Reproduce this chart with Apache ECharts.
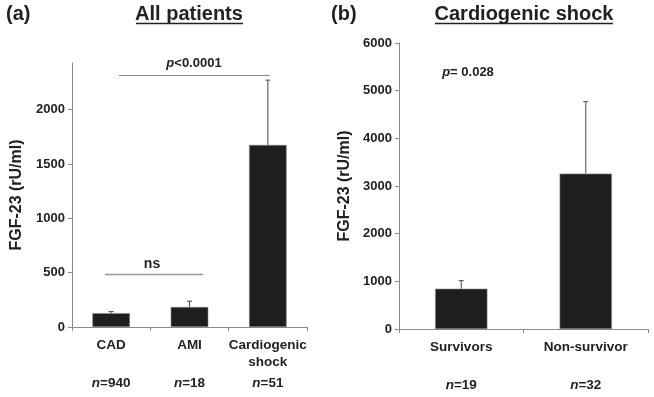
<!DOCTYPE html>
<html>
<head>
<meta charset="utf-8">
<script src="https://cdn.jsdelivr.net/npm/echarts@6/dist/echarts.min.js"></script>
<style>
  html, body { margin: 0; padding: 0; background: #fff; }
  #chart { width: 654px; height: 397px; }
</style>
</head>
<body>
<div id="chart"></div>
<script>
// panel (a): all patients
const catsA = ['CAD', 'AMI', 'Cardiogenic\nshock']
const nA = ['940', '18', '51']
const meanA = [128, 184, 1676]
const errA = [142, 237, 2272]

// panel (b): cardiogenic shock
const catsB = ['Survivors', 'Non-survivor']
const nB = ['19', '32']
const meanB = [845, 3260]
const errB = [1015, 4770]

const FONT = '"Liberation Sans", Arial, sans-serif'
const TXT = '#222'
const AXIS = '#8a8a8a'

var myChart = echarts.init(document.getElementById('chart'), null, { renderer: 'canvas' })

function catLabel (cats, ns) {
  return function (value, idx) {
    const lines = value.split('\n')
    let s = lines.map(l => '{c|' + l + '}').join('\n')
    if (lines.length === 1) s += '\n{c| }'
    return s + '\n{n|n}{v|=' + ns[idx] + '}'
  }
}
const catRich = {
  c: { fontFamily: FONT, fontWeight: 'bold', fontSize: 13.5, color: TXT, lineHeight: 17 },
  n: { fontFamily: FONT, fontWeight: 'bold', fontStyle: 'italic', fontSize: 13.5, color: TXT, lineHeight: 25 },
  v: { fontFamily: FONT, fontWeight: 'bold', fontSize: 13.5, color: TXT, lineHeight: 25 }
}

function xAxisFor (grid, cats, ns) {
  return {
    type: 'category', gridIndex: grid, data: cats,
    axisLine: { lineStyle: { color: AXIS, width: 1 } },
    axisTick: { show: true, length: 4, lineStyle: { color: AXIS } },
    axisLabel: { margin: 10, formatter: catLabel(cats, ns), rich: catRich, interval: 0 }
  }
}
function yAxisFor (grid, max, interval, gap) {
  return {
    type: 'value', gridIndex: grid, min: 0, max: max, interval: interval,
    name: 'FGF-23 (rU/ml)', nameLocation: 'middle', nameGap: gap,
    nameTextStyle: { fontFamily: FONT, fontWeight: 'bold', fontSize: 16, color: TXT },
    splitLine: { show: false },
    axisLine: { show: true, lineStyle: { color: AXIS, width: 1 } },
    axisTick: { show: true, length: 4, lineStyle: { color: AXIS } },
    axisLabel: {
      showMaxLabel: max % interval === 0,
      formatter: v => String(v),
      fontFamily: FONT, fontWeight: 'bold', fontSize: 13, color: TXT, margin: 7
    }
  }
}

function errSeries (idx, data, means) {
  return {
    type: 'custom', xAxisIndex: idx, yAxisIndex: idx, z: 1,
    data: data.map((v, i) => [i, v]),
    renderItem: function (params, api) {
      const i = api.value(0)
      const top = api.coord([i, api.value(1)])
      const base = api.coord([i, means[i]])
      return {
        type: 'group',
        children: [
          { type: 'line', shape: { x1: top[0], y1: base[1], x2: top[0], y2: top[1] }, style: { stroke: '#555', lineWidth: 1.1 } },
          { type: 'line', shape: { x1: top[0] - 2.5, y1: top[1], x2: top[0] + 2.5, y2: top[1] }, style: { stroke: '#555', lineWidth: 1.1 } }
        ]
      }
    }
  }
}

const pRich = {
  i: { font: 'italic bold 13px ' + FONT, fill: TXT },
  b: { font: 'bold 13px ' + FONT, fill: TXT }
}

const option = {
  animation: false,
  backgroundColor: '#fff',
  grid: [
    { left: 72, top: 63, right: 347, bottom: 70 },
    { left: 399, top: 43, right: 6, bottom: 68 }
  ],
  xAxis: [xAxisFor(0, catsA, nA), xAxisFor(1, catsB, nB)],
  yAxis: [yAxisFor(0, 2430, 500, 47), yAxisFor(1, 6000, 1000, 46)],
  series: [
    errSeries(0, errA, meanA),
    errSeries(1, errB, meanB),
    {
      type: 'bar', xAxisIndex: 0, yAxisIndex: 0, data: meanA, barWidth: '48%', z: 2,
      itemStyle: { color: '#1e1e1e', borderColor: '#888', borderWidth: 0.6 }
    },
    {
      type: 'bar', xAxisIndex: 1, yAxisIndex: 1, data: meanB, barWidth: '42%', z: 2,
      itemStyle: { color: '#1e1e1e', borderColor: '#888', borderWidth: 0.6 }
    }
  ],
  graphic: [
    { type: 'text', x: 6, y: 14, style: { text: '(a)', font: 'bold 20px ' + FONT, fill: TXT, verticalAlign: 'middle' } },
    { type: 'text', x: 331, y: 14, style: { text: '(b)', font: 'bold 20px ' + FONT, fill: TXT, verticalAlign: 'middle' } },
    { type: 'text', x: 189, y: 14, style: { text: 'All patients', font: 'bold 20px ' + FONT, fill: TXT, align: 'center', verticalAlign: 'middle' } },
    { type: 'line', shape: { x1: 136, y1: 23.5, x2: 243, y2: 23.5 }, style: { stroke: TXT, lineWidth: 1.3 } },
    { type: 'text', x: 524, y: 14, style: { text: 'Cardiogenic shock', font: 'bold 20px ' + FONT, fill: TXT, align: 'center', verticalAlign: 'middle' } },
    { type: 'line', shape: { x1: 435, y1: 23.5, x2: 613, y2: 23.5 }, style: { stroke: TXT, lineWidth: 1.3 } },
    // significance brackets
    { type: 'line', shape: { x1: 119, y1: 75.5, x2: 270, y2: 75.5 }, style: { stroke: '#888', lineWidth: 1 } },
    { type: 'text', x: 194, y: 63, style: { text: '{i|p}{b|<0.0001}', align: 'center', verticalAlign: 'middle', rich: pRich } },
    { type: 'line', shape: { x1: 105, y1: 274.5, x2: 203, y2: 274.5 }, style: { stroke: '#999', lineWidth: 1.5 } },
    { type: 'text', x: 152, y: 264, style: { text: 'ns', font: 'bold 14px ' + FONT, fill: TXT, align: 'center', verticalAlign: 'middle' } },
    { type: 'text', x: 468, y: 72.5, style: { text: '{i|p}{b|= 0.028}', align: 'center', verticalAlign: 'middle', rich: pRich } }
  ]
}
myChart.setOption(option)
</script>
</body>
</html>
